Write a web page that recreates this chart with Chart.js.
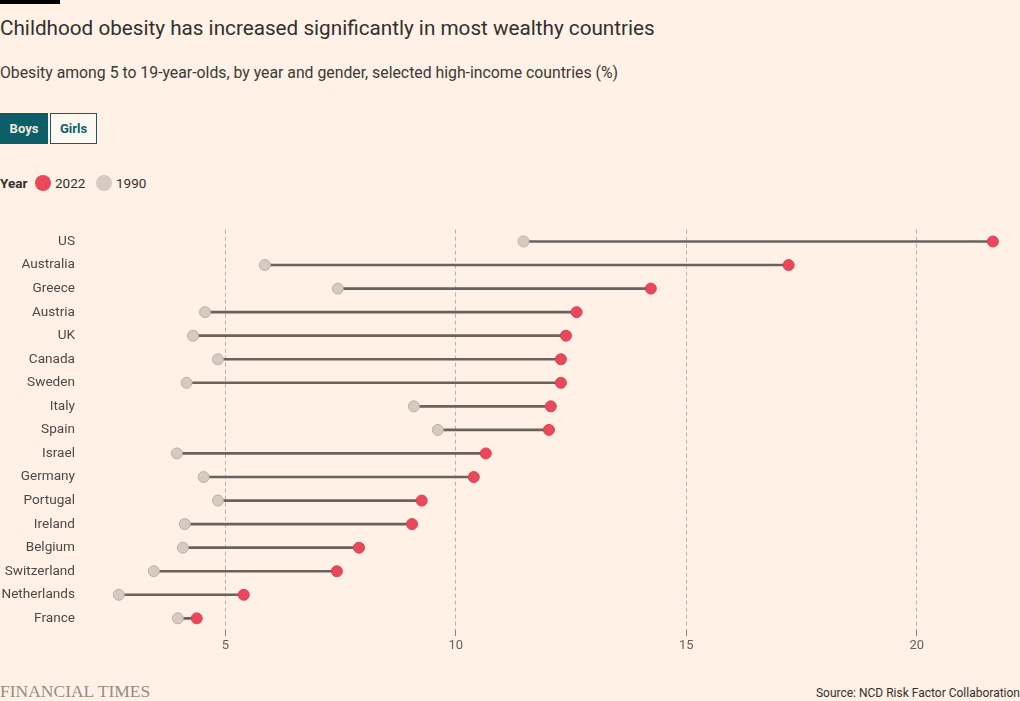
<!DOCTYPE html>
<html>
<head>
<meta charset="utf-8">
<script src="https://cdn.jsdelivr.net/npm/chart.js@4.4.1/dist/chart.umd.min.js"></script>
<style>
  html, body { margin:0; padding:0; background:#fff1e5; }
  body { width:1020px; height:701px; position:relative; overflow:hidden; font-family: Roboto, "Noto Sans", sans-serif; color:#33302e; }
  .bar { position:absolute; left:0; top:0; width:60px; height:4px; background:#000; }
  .title { position:absolute; left:0; top:14px; font-size:20.7px; line-height:28px; white-space:nowrap; color:#33302e; }
  .subtitle { position:absolute; left:0; top:63px; font-size:15.8px; line-height:20px; white-space:nowrap; color:#3d3936; }
  .btn { position:absolute; top:113px; height:31px; box-sizing:border-box; font-size:13px; font-weight:bold; line-height:31px; text-align:center; }
  .boys { left:0; width:48px; background:#0d5e66; color:#f2e9df; }
  .girls { left:50px; width:47px; background:#fff8f2; color:#0d5e66; border:1px solid #0d5e66; line-height:29px; }
  .legend { position:absolute; left:0; top:174px; height:18px; font-size:13.5px; line-height:18px; white-space:nowrap; }
  .legend span { position:absolute; top:0; }
  .dot { width:16px; height:16px; border-radius:50%; top:1px !important; }
  .footer-ft { position:absolute; left:0; top:681px; font-family:"Liberation Serif", "DejaVu Serif", serif; font-size:17.5px; line-height:20px; color:#958c85; white-space:nowrap; }
  .source { position:absolute; right:0; top:686px; font-size:12px; line-height:14px; color:#33302e; white-space:nowrap; }
  #wrap { position:absolute; left:0; top:200px; width:1020px; height:470px; }
</style>
</head>
<body>
<div class="bar"></div>
<div class="title">Childhood obesity has increased significantly in most wealthy countries</div>
<div class="subtitle">Obesity among 5 to 19-year-olds, by year and gender, selected high-income countries (%)</div>
<div class="btn boys">Boys</div>
<div class="btn girls">Girls</div>
<div class="legend">
  <span style="left:0;font-weight:bold;">Year</span>
  <span class="dot" style="left:35px;background:#e9485a;"></span>
  <span style="left:55px;">2022</span>
  <span class="dot" style="left:96px;background:#d5cbc3;"></span>
  <span style="left:116px;">1990</span>
</div>
<div id="wrap"><canvas id="c"></canvas></div>
<div class="footer-ft">FINANCIAL TIMES</div>
<div class="source">Source: NCD Risk Factor Collaboration</div>
<script>
const countries = ["US","Australia","Greece","Austria","UK","Canada","Sweden","Italy","Spain","Israel","Germany","Portugal","Ireland","Belgium","Switzerland","Netherlands","France"];
const values1990 = [11.47, 5.86, 7.44, 4.56, 4.30, 4.84, 4.16, 9.09, 9.61, 3.95, 4.53, 4.84, 4.12, 4.08, 3.45, 2.69, 3.97];
const values2022 = [21.65, 17.22, 14.23, 12.62, 12.39, 12.28, 12.28, 12.06, 12.02, 10.65, 10.39, 9.26, 9.05, 7.90, 7.42, 5.40, 4.38];
const xTicks = [5, 10, 15, 20];

const ranges = countries.map((c, i) => [values1990[i], values2022[i]]);

Chart.defaults.font.family = 'Roboto, "Noto Sans", sans-serif';
Chart.defaults.color = '#4d4845';

new Chart(document.getElementById('c'), {
  type: 'bar',
  data: {
    labels: countries,
    datasets: [
      {
        type: 'bar',
        label: 'range',
        data: ranges,
        backgroundColor: '#6a625d',
        borderWidth: 0,
        barThickness: 2,
        borderSkipped: false,
        indexAxis: 'y',
        order: 3
      },
      {
        type: 'line',
        label: '1990',
        data: values1990,
        showLine: false,
        indexAxis: 'y',
        pointRadius: 5.5,
        pointBackgroundColor: '#d5cbc3',
        pointBorderColor: '#bcb0a7',
        pointBorderWidth: 1,
        order: 2
      },
      {
        type: 'line',
        label: '2022',
        data: values2022,
        showLine: false,
        indexAxis: 'y',
        pointRadius: 5.5,
        pointBackgroundColor: '#e9485a',
        pointBorderColor: '#e03f52',
        pointBorderWidth: 1,
        order: 1
      }
    ]
  },
  options: {
    indexAxis: 'y',
    responsive: true,
    maintainAspectRatio: false,
    animation: false,
    layout: { padding: { top: 29.7, right: 11, left: 0, bottom: 0 } },
    plugins: { legend: { display: false }, tooltip: { enabled: false } },
    scales: {
      x: {
        type: 'linear',
        position: 'bottom',
        min: 2,
        max: 22,
        afterBuildTicks: (s) => { s.ticks = xTicks.map(v => ({ value: v })); },
        afterFit: (s) => { s.height = 39.9; },
        grid: {
          color: '#b9b0a8',
          lineWidth: 1,
          drawTicks: true,
          tickLength: 6,
          tickColor: '#8e857e',
          tickBorderDash: [],
        },
        border: { display: false, dash: [4, 3] },
        ticks: { color: '#66605c', font: { size: 13 }, padding: 2 }
      },
      y: {
        type: 'category',
        offset: true,
        afterFit: (s) => { s.width = 87; },
        grid: { display: false, drawTicks: false },
        border: { display: false },
        ticks: { color: '#4d4845', font: { size: 13.6 }, padding: 12 }
      }
    }
  }
});
</script>
</body>
</html>
